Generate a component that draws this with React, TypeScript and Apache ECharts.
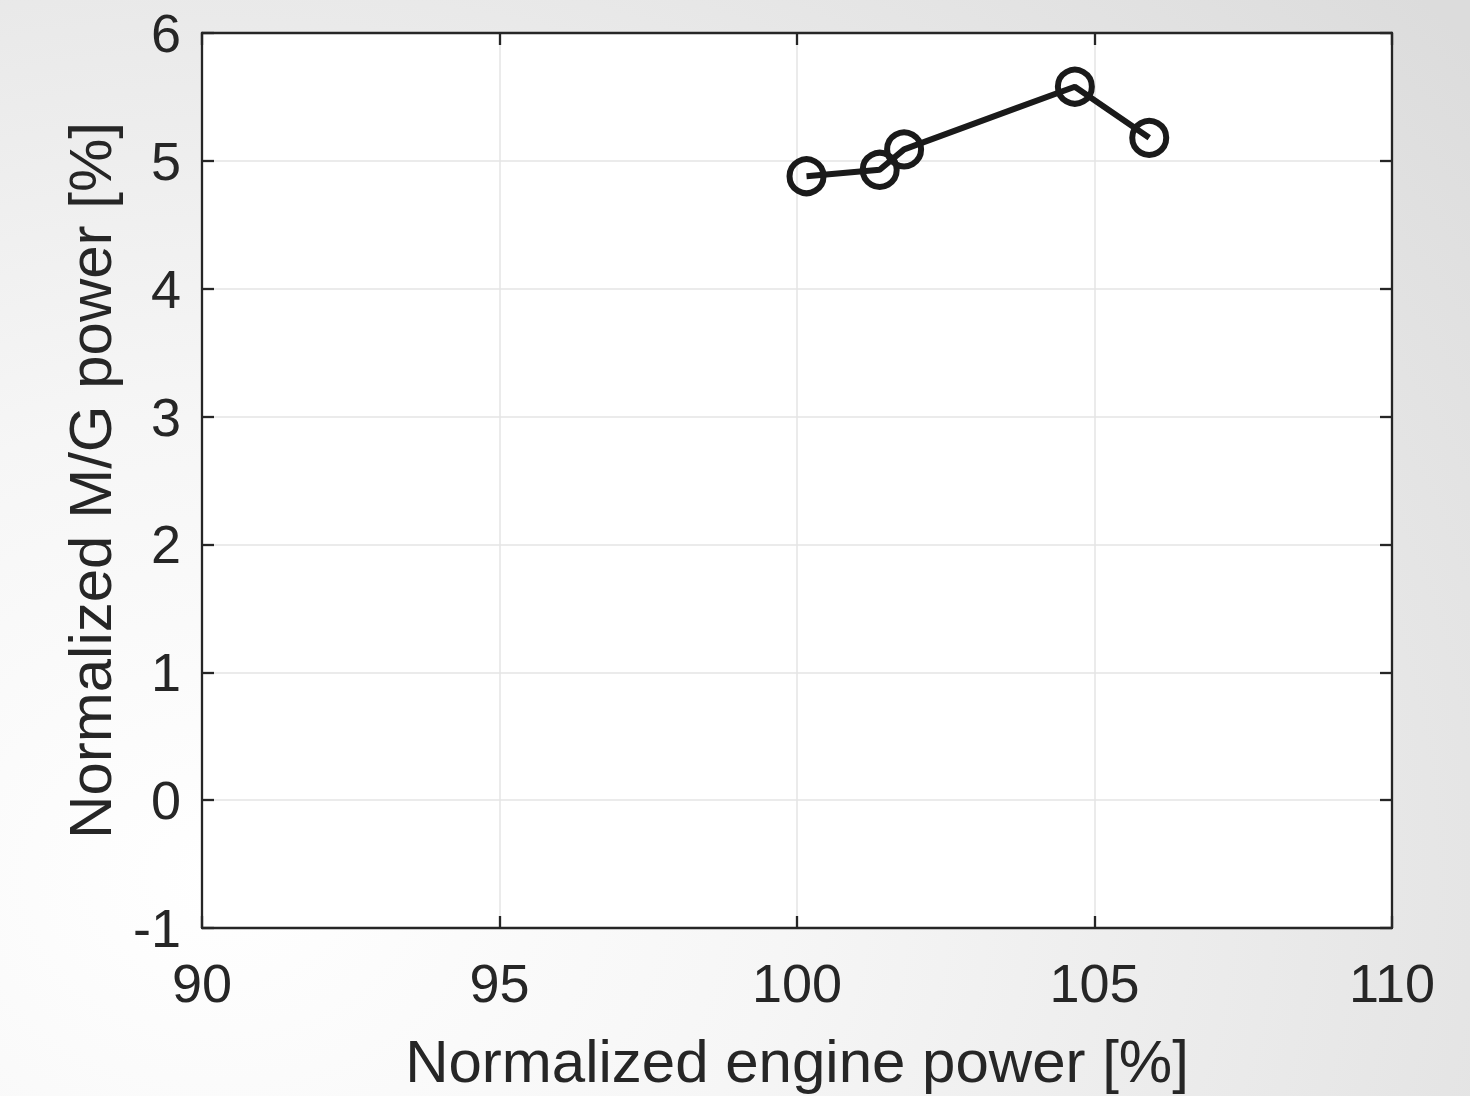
import React, { useEffect, useRef } from "react";
import * as echarts from "echarts";

const enginePower = [100.16, 101.39, 101.8, 104.67, 105.92];
const mgPower = [4.88, 4.93, 5.09, 5.58, 5.18];
const xTitle = "Normalized engine power [%]";
const yTitle = "Normalized M/G power [%]";

const FONT = "'Liberation Sans', Arial, sans-serif";
const TXT = "#262626";

export default function App() {
  const ref = useRef<HTMLDivElement>(null);
  useEffect(() => {
    if (!ref.current) return;
    const chart = echarts.init(ref.current, null, { renderer: "svg" });
    const data = enginePower.map((x, i) => [x, mgPower[i]]);
    const axisLine = { show: true, onZero: false, lineStyle: { color: TXT, width: 2.3 } };
    const axisTick = { show: true, inside: true, length: 12, lineStyle: { color: TXT, width: 2.3 } };
    const splitLine = { show: true, lineStyle: { color: "#e4e4e4", width: 1.5 } };
    chart.setOption({
      animation: false,
      backgroundColor: "transparent",
      grid: { left: 202, top: 33, width: 1190, height: 897, backgroundColor: "#ffffff", show: true, borderWidth: 0 },
      xAxis: [
        {
          type: "value", min: 90, max: 110, interval: 5, position: "bottom",
          axisLine, axisTick, splitLine,
          axisLabel: { color: TXT, fontSize: 54, fontFamily: FONT, margin: 28 },
          name: xTitle, nameLocation: "middle", nameGap: 103,
          nameTextStyle: { color: TXT, fontSize: 60, fontFamily: FONT },
        },
        {
          type: "value", min: 90, max: 110, interval: 5, position: "top",
          axisLine, axisTick, splitLine: { show: false }, axisLabel: { show: false },
        },
      ],
      yAxis: [
        {
          type: "value", min: -1, max: 6, interval: 1, position: "left",
          axisLine, axisTick, splitLine,
          axisLabel: { color: TXT, fontSize: 54, fontFamily: FONT, margin: 21 },
          name: yTitle, nameLocation: "middle", nameGap: 82,
          nameTextStyle: { color: TXT, fontSize: 60, fontFamily: FONT },
        },
        {
          type: "value", min: -1, max: 6, interval: 1, position: "right",
          axisLine, axisTick, splitLine: { show: false }, axisLabel: { show: false },
        },
      ],
      series: [
        {
          type: "line",
          data,
          xAxisIndex: 0,
          yAxisIndex: 0,
          symbol: "circle",
          symbolSize: 34,
          lineStyle: { color: "#1a1a1a", width: 6 },
          itemStyle: { color: "rgba(0,0,0,0)", borderColor: "#1a1a1a", borderWidth: 6 },
          emphasis: { disabled: true },
          z: 5,
        },
      ],
    });
    return () => chart.dispose();
  }, []);
  return (
    <div
      style={{
        position: "absolute",
        left: 0,
        top: 0,
        width: 1470,
        height: 1096,
        background:
          "radial-gradient(ellipse 110% 120% at 15% 80%, #ffffff 0%, #f6f6f6 35%, #e8e8e8 70%, #dcdcdc 100%)",
      }}
    >
      <div ref={ref} style={{ width: 1470, height: 1096 }} />
    </div>
  );
}
